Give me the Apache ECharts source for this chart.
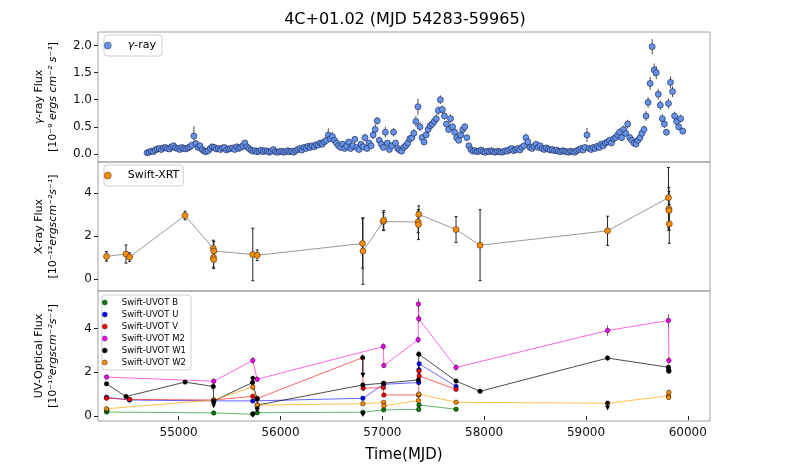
<!DOCTYPE html>
<html>
<head>
<meta charset="utf-8">
<title>4C+01.02 light curve</title>
<script src="https://cdn.jsdelivr.net/npm/echarts@6.0.0/dist/echarts.min.js"></script>
<style>
  html, body { margin: 0; padding: 0; background: #fff; }
  #chart { width: 789px; height: 473px; }
</style>
</head>
<body>
<div id="chart"></div>
<script>
// ---- data ----
// Fermi gamma-ray light curve, 20 day bins starting at MJD 54690
var gammaStart = 54690;
var gammaStep = 20;
var gammaFlux = [
  0.02, 0.03, 0.05, 0.04, 0.07, 0.09, 0.10, 0.08, 0.11, 0.12,
  0.10, 0.09, 0.13, 0.15, 0.11, 0.10, 0.08, 0.12, 0.10, 0.09,
  0.11, 0.13, 0.16, 0.33, 0.19, 0.12, 0.15, 0.08, 0.05, 0.04,
  0.06, 0.10, 0.13, 0.12, 0.09, 0.10, 0.08, 0.11, 0.12, 0.07,
  0.09, 0.10, 0.11, 0.08, 0.13, 0.10, 0.12, 0.15, 0.20, 0.13,
  0.10, 0.07, 0.05, 0.06, 0.04, 0.05, 0.07, 0.04, 0.06, 0.05,
  0.03, 0.05, 0.08, 0.04, 0.03, 0.04, 0.05, 0.03, 0.04, 0.06,
  0.04, 0.05, 0.03, 0.06, 0.08, 0.10, 0.07, 0.12, 0.10, 0.14,
  0.12, 0.15, 0.13, 0.17, 0.16, 0.20, 0.18, 0.22, 0.25, 0.35,
  0.28, 0.32, 0.25, 0.20, 0.15, 0.12, 0.18, 0.10, 0.14, 0.22,
  0.10, 0.15, 0.27, 0.12, 0.08, 0.18, 0.13, 0.30, 0.10, 0.20,
  0.15, 0.35, 0.45, 0.61, 0.25, 0.18, 0.12, 0.40, 0.20, 0.08,
  0.15, 0.40, 0.20, 0.10, 0.07, 0.05, 0.12, 0.15, 0.20, 0.28,
  0.30, 0.38, 0.60, 0.87, 0.50, 0.30, 0.22, 0.35, 0.45, 0.52,
  0.55, 0.60, 0.65, 0.80, 1.00, 0.82, 0.70, 0.55, 0.45, 0.65,
  0.50, 0.40, 0.30, 0.25, 0.35, 0.45, 0.50, 0.30, 0.15, 0.08,
  0.05, 0.06, 0.04, 0.05, 0.07, 0.04, 0.03, 0.05, 0.04, 0.06,
  0.04, 0.03, 0.05, 0.04, 0.03, 0.04, 0.06, 0.05, 0.08, 0.10,
  0.06, 0.08, 0.10, 0.07, 0.12, 0.15, 0.30, 0.22, 0.12, 0.10,
  0.14, 0.18, 0.12, 0.15, 0.10, 0.08, 0.11, 0.09, 0.07, 0.08,
  0.06, 0.07, 0.05, 0.04, 0.06, 0.05, 0.04, 0.03, 0.05, 0.04,
  0.03, 0.06, 0.08, 0.10, 0.07, 0.12, 0.35, 0.10, 0.08, 0.12,
  0.10, 0.14, 0.12, 0.18, 0.15, 0.20, 0.22, 0.25, 0.20, 0.28,
  0.30, 0.35, 0.40, 0.30, 0.45, 0.38, 0.55, 0.30, 0.25, 0.20,
  0.18, 0.25, 0.30, 0.38, 0.45, 0.70, 0.95, 1.30, 1.98, 1.55,
  1.50, 1.10, 0.90, 0.65, 0.55, 0.40, 0.93, 1.32, 1.15, 0.70,
  0.60, 0.50, 0.65, 0.42
];
var gammaErr = [
  0.02, 0.02, 0.03, 0.03, 0.03, 0.03, 0.03, 0.03, 0.03, 0.03,
  0.03, 0.03, 0.03, 0.04, 0.03, 0.03, 0.03, 0.03, 0.03, 0.03,
  0.03, 0.03, 0.05, 0.18, 0.06, 0.03, 0.04, 0.03, 0.02, 0.02,
  0.02, 0.03, 0.03, 0.03, 0.03, 0.03, 0.03, 0.03, 0.03, 0.03,
  0.03, 0.03, 0.03, 0.03, 0.03, 0.03, 0.03, 0.04, 0.05, 0.03,
  0.03, 0.03, 0.02, 0.02, 0.02, 0.02, 0.02, 0.02, 0.02, 0.02,
  0.02, 0.02, 0.03, 0.02, 0.02, 0.02, 0.02, 0.02, 0.02, 0.02,
  0.02, 0.02, 0.02, 0.02, 0.03, 0.03, 0.03, 0.03, 0.03, 0.04,
  0.03, 0.04, 0.03, 0.04, 0.04, 0.05, 0.04, 0.05, 0.05, 0.12,
  0.06, 0.08, 0.05, 0.05, 0.04, 0.03, 0.05, 0.03, 0.04, 0.05,
  0.03, 0.04, 0.06, 0.03, 0.03, 0.04, 0.04, 0.07, 0.03, 0.05,
  0.04, 0.08, 0.10, 0.07, 0.05, 0.04, 0.03, 0.10, 0.05, 0.03,
  0.04, 0.08, 0.05, 0.03, 0.03, 0.02, 0.04, 0.04, 0.05, 0.06,
  0.06, 0.08, 0.10, 0.15, 0.08, 0.06, 0.05, 0.06, 0.07, 0.08,
  0.08, 0.08, 0.08, 0.08, 0.08, 0.07, 0.07, 0.06, 0.06, 0.08,
  0.06, 0.06, 0.05, 0.05, 0.06, 0.07, 0.06, 0.05, 0.04, 0.03,
  0.02, 0.02, 0.02, 0.02, 0.02, 0.02, 0.02, 0.02, 0.02, 0.02,
  0.02, 0.02, 0.02, 0.02, 0.02, 0.02, 0.03, 0.02, 0.03, 0.03,
  0.02, 0.03, 0.03, 0.03, 0.04, 0.04, 0.07, 0.05, 0.04, 0.03,
  0.04, 0.04, 0.04, 0.04, 0.03, 0.03, 0.03, 0.03, 0.03, 0.03,
  0.02, 0.02, 0.02, 0.02, 0.02, 0.02, 0.02, 0.02, 0.02, 0.02,
  0.02, 0.02, 0.03, 0.03, 0.03, 0.04, 0.13, 0.03, 0.03, 0.04,
  0.04, 0.04, 0.04, 0.05, 0.04, 0.05, 0.05, 0.05, 0.05, 0.06,
  0.06, 0.06, 0.07, 0.06, 0.07, 0.06, 0.08, 0.06, 0.05, 0.05,
  0.05, 0.05, 0.06, 0.06, 0.07, 0.09, 0.10, 0.12, 0.14, 0.12,
  0.12, 0.10, 0.09, 0.08, 0.07, 0.06, 0.09, 0.11, 0.10, 0.08,
  0.07, 0.06, 0.07, 0.06
];

// Swift-XRT: [MJD, flux, error]
var xrtPoints = [
  [54292, 1.05, 0.22], [54483, 1.16, 0.42], [54518, 1.02, 0.20],
  [55063, 2.95, 0.20],
  [55340, 1.42, 0.38], [55342, 1.00, 0.45], [55344, 0.90, 0.42], [55346, 1.30, 0.45],
  [55728, 1.14, 1.22], [55771, 1.10, 0.25],
  [56806, 1.65, 1.15], [56810, 1.30, 1.55],
  [57010, 2.67, 0.42], [57014, 2.73, 0.45],
  [57352, 2.65, 0.50], [57355, 2.53, 0.70], [57358, 3.00, 0.40],
  [57724, 2.30, 0.60], [57960, 1.57, 1.65], [59212, 2.24, 0.68],
  [59810, 3.78, 1.40], [59814, 3.26, 1.00], [59816, 3.18, 0.90], [59818, 2.56, 0.90]
];

// Swift-UVOT bands: [MJD, flux, error]
var uvotB = [
  [54292, 0.18, 0.05], [54296, 0.25, 0.05], [55344, 0.14, 0.04], [55728, 0.08, 0.04],
  [55771, 0.15, 0.04], [56809, 0.17, 0.05], [57013, 0.28, 0.05], [57357, 0.30, 0.05],
  [57360, 0.50, 0.06], [57724, 0.31, 0.05]
];
var uvotU = [
  [54292, 0.86, 0.06], [54518, 0.73, 0.05], [55344, 0.69, 0.06], [55728, 0.69, 0.06],
  [56809, 0.81, 0.07], [57013, 1.45, 0.10], [57357, 1.53, 0.10], [57360, 2.11, 0.12],
  [57362, 2.39, 0.12], [57724, 1.35, 0.10]
];
var uvotV = [
  [54292, 0.81, 0.06], [54518, 0.76, 0.05], [55344, 0.73, 0.06], [55728, 0.90, 0.07],
  [55771, 0.80, 0.06], [56806, 2.67, 0.15], [56812, 1.27, 0.10], [57010, 1.30, 0.10],
  [57015, 0.96, 0.08], [57357, 0.96, 0.08], [57360, 2.06, 0.12], [57362, 1.83, 0.12],
  [57724, 1.22, 0.10]
];
var uvotM2 = [
  [54292, 1.78, 0.10], [55344, 1.59, 0.12], [55728, 2.54, 0.15], [55771, 1.68, 0.12],
  [57010, 3.18, 0.15], [57015, 2.31, 0.12], [57352, 3.49, 0.15], [57355, 5.12, 0.25],
  [57358, 4.45, 0.20], [57724, 2.22, 0.15], [59212, 3.91, 0.25], [59810, 4.37, 0.30],
  [59814, 2.54, 0.15]
];
var uvotW1 = [
  [54292, 1.47, 0.08], [54483, 0.89, 0.06], [55063, 1.55, 0.08], [55340, 1.35, 0.25],
  [55344, 0.69, 0.10], [55725, 1.53, 0.20], [55771, 0.78, 0.10], [55774, 0.50, 0.08],
  [56809, 1.42, 0.10], [57013, 1.50, 0.10], [57355, 1.65, 0.10], [57358, 2.83, 0.15],
  [57724, 1.60, 0.10], [57960, 1.13, 0.08], [59212, 2.65, 0.12], [59810, 2.23, 0.12],
  [59812, 2.10, 0.12], [59814, 2.05, 0.12]
];
var uvotW2 = [
  [54292, 0.33, 0.05], [55344, 0.73, 0.10], [55728, 1.33, 0.15], [55771, 0.50, 0.08],
  [56809, 0.56, 0.06], [57013, 0.62, 0.06], [57016, 0.47, 0.06], [57355, 0.70, 0.08],
  [57358, 1.00, 0.08], [57724, 0.63, 0.06], [59212, 0.58, 0.08], [59810, 0.92, 0.08],
  [59812, 0.85, 0.08], [59814, 1.08, 0.10]
];
// UVOT upper limits: [MJD, marker value, arrow tip]
var uvotLimits = [
  [55344, 0.70, 0.40], [55728, 1.75, 1.60], [55728, 0.12, -0.02], [55771, 0.35, 0.20],
  [56809, 2.67, 1.80], [56809, 0.14, 0.00], [59212, 0.60, 0.30]
];

var xTicks = [55000, 56000, 57000, 58000, 59000, 60000];
var gammaTicks = [0, 0.5, 1, 1.5, 2];
var xrtTicks = [0, 2, 4];
var uvotTicks = [0, 2, 4];

var bands = [
  { name: 'Swift-UVOT B', data: uvotB, color: '#008000', line: 'rgba(0,128,0,0.6)' },
  { name: 'Swift-UVOT U', data: uvotU, color: '#0000ff', line: 'rgba(0,0,255,0.6)' },
  { name: 'Swift-UVOT V', data: uvotV, color: '#ff0000', line: 'rgba(255,0,0,0.6)' },
  { name: 'Swift-UVOT M2', data: uvotM2, color: '#ff00ff', line: 'rgba(255,0,200,0.6)' },
  { name: 'Swift-UVOT W1', data: uvotW1, color: '#000000', line: 'rgba(0,0,0,0.7)' },
  { name: 'Swift-UVOT W2', data: uvotW2, color: '#ff8c00', line: 'rgba(255,165,0,0.7)' }
];

// ---- helpers ----
var FONT = 'DejaVu Sans';

function errorBarRender(color, cap, width) {
  return function (params, api) {
    var hi = api.coord([api.value(0), api.value(2)]);
    var lo = api.coord([api.value(0), api.value(1)]);
    var st = { stroke: color, lineWidth: width };
    var kids = [{ type: 'line', shape: { x1: hi[0], y1: hi[1], x2: lo[0], y2: lo[1] }, style: st }];
    if (cap) {
      kids.push({ type: 'line', shape: { x1: hi[0] - cap, y1: hi[1], x2: hi[0] + cap, y2: hi[1] }, style: st });
      kids.push({ type: 'line', shape: { x1: lo[0] - cap, y1: lo[1], x2: lo[0] + cap, y2: lo[1] }, style: st });
    }
    return { type: 'group', children: kids };
  };
}

function limitRender(params, api) {
  var top = api.coord([api.value(0), api.value(1)]);
  var tip = api.coord([api.value(0), api.value(2)]);
  var st = { stroke: '#000', lineWidth: 1 };
  return {
    type: 'group',
    children: [
      { type: 'line', shape: { x1: top[0], y1: top[1], x2: tip[0], y2: tip[1] }, style: st },
      { type: 'polygon', shape: { points: [[tip[0] - 2.5, tip[1] - 4], [tip[0] + 2.5, tip[1] - 4], [tip[0], tip[1] + 1]] }, style: { fill: '#000' } },
      { type: 'circle', shape: { cx: top[0], cy: top[1], r: 2 }, style: { fill: '#000' } }
    ]
  };
}

function errorData(points) {
  return points.map(function (p) { return [p[0], p[1] - p[2], p[1] + p[2]]; });
}

function yName(first, second) {
  return first + '\n' + second;
}

var nameRich = {
  t: { fontFamily: FONT, fontSize: 11, color: '#000' },
  i: { fontFamily: FONT, fontSize: 11, color: '#000', fontStyle: 'italic' }
};

function makeXAxis(idx, showLabels) {
  return {
    type: 'value', gridIndex: idx, min: 54208, max: 60218,
    axisLine: { show: false },
    splitLine: { show: false },
    axisTick: { show: showLabels, length: 4, lineStyle: { color: '#222' }, customValues: xTicks },
    axisLabel: {
      show: showLabels, customValues: xTicks, fontFamily: FONT, fontSize: 12, color: '#111', margin: 6,
      formatter: function (v) { return String(v); }
    },
    name: showLabels ? 'Time(MJD)' : '',
    nameLocation: 'middle', nameGap: 27,
    nameTextStyle: { fontFamily: FONT, fontSize: 15, color: '#000' }
  };
}

function makeYAxis(idx, min, max, ticks, digits, name) {
  return {
    type: 'value', gridIndex: idx, min: min, max: max,
    axisLine: { show: false },
    splitLine: { show: false },
    axisTick: { show: true, length: 4, lineStyle: { color: '#222' }, customValues: ticks },
    axisLabel: {
      customValues: ticks, fontFamily: FONT, fontSize: 12, color: '#111', margin: 6,
      formatter: function (v) { return v.toFixed(digits); }
    },
    name: name, nameLocation: 'middle', nameRotate: 90, nameGap: 38,
    nameTextStyle: { lineHeight: 14, rich: nameRich }
  };
}

// ---- series ----
var gammaPoints = gammaFlux.map(function (f, i) { return [gammaStart + i * gammaStep, f, gammaErr[i]]; });

var series = [
  {
    type: 'custom', xAxisIndex: 0, yAxisIndex: 0, silent: true, clip: true, z: 2,
    renderItem: errorBarRender('#222', 0, 0.8),
    encode: { x: 0, y: [1, 2] },
    data: errorData(gammaPoints)
  },
  {
    name: 'γ-ray', type: 'scatter', xAxisIndex: 0, yAxisIndex: 0, z: 3,
    symbolSize: 6,
    itemStyle: { color: '#6495ed', borderColor: '#1a1a40', borderWidth: 0.6, opacity: 1 },
    data: gammaPoints.map(function (p) { return [p[0], p[1]]; })
  },
  {
    type: 'line', xAxisIndex: 1, yAxisIndex: 1, silent: true, z: 1,
    showSymbol: false,
    lineStyle: { color: '#999', width: 1 },
    data: xrtPoints.map(function (p) { return [p[0], p[1]]; })
  },
  {
    type: 'custom', xAxisIndex: 1, yAxisIndex: 1, silent: true, clip: true, z: 2,
    renderItem: errorBarRender('#222', 1.5, 1),
    encode: { x: 0, y: [1, 2] },
    data: errorData(xrtPoints)
  },
  {
    name: 'Swift-XRT', type: 'scatter', xAxisIndex: 1, yAxisIndex: 1, z: 3,
    symbolSize: 6,
    itemStyle: { color: '#ff8c00', borderColor: '#333', borderWidth: 0.6, opacity: 1 },
    data: xrtPoints.map(function (p) { return [p[0], p[1]]; })
  }
];

bands.forEach(function (b) {
  series.push({
    type: 'line', xAxisIndex: 2, yAxisIndex: 2, silent: true, z: 1,
    showSymbol: false,
    lineStyle: { color: b.line, width: 1 },
    data: b.data.map(function (p) { return [p[0], p[1]]; })
  });
  series.push({
    type: 'custom', xAxisIndex: 2, yAxisIndex: 2, silent: true, clip: true, z: 2,
    renderItem: errorBarRender('rgba(80,80,80,0.8)', 0, 1),
    encode: { x: 0, y: [1, 2] },
    data: errorData(b.data)
  });
  series.push({
    name: b.name, type: 'scatter', xAxisIndex: 2, yAxisIndex: 2, z: 3,
    symbolSize: 4.5,
    itemStyle: { color: b.color, borderColor: '#000', borderWidth: 0.5, opacity: 1 },
    data: b.data.map(function (p) { return [p[0], p[1]]; })
  });
});

series.push({
  type: 'custom', xAxisIndex: 2, yAxisIndex: 2, silent: true, clip: true, z: 4,
  renderItem: limitRender,
  encode: { x: 0, y: [1, 2] },
  data: uvotLimits
});

var legendBase = {
  orient: 'vertical', icon: 'circle', itemWidth: 30, itemHeight: 7,
  backgroundColor: '#fff', borderColor: '#d0d0d0', borderWidth: 1, borderRadius: 3,
  itemStyle: { borderWidth: 0.5, borderColor: '#333' },
  textStyle: { fontFamily: FONT, fontSize: 11, color: '#000' }
};

var option = {
  backgroundColor: '#fff',
  animation: false,
  title: {
    text: '4C+01.02 (MJD 54283-59965)',
    left: 400, top: 7, textAlign: 'center',
    textStyle: { fontFamily: FONT, fontSize: 16, fontWeight: 'normal', color: '#000' }
  },
  legend: [
    Object.assign({}, legendBase, {
      data: ['γ-ray'], left: 104, top: 35, padding: [5, 6, 5, 0],
      formatter: function () { return '{i|γ}-ray'; },
      textStyle: { fontFamily: FONT, fontSize: 11, color: '#000', rich: { i: { fontStyle: 'italic', fontFamily: FONT, fontSize: 11 } } }
    }),
    Object.assign({}, legendBase, {
      data: ['Swift-XRT'], left: 104, top: 165, padding: [5, 4, 5, 0]
    }),
    Object.assign({}, legendBase, {
      data: bands.map(function (b) { return b.name; }),
      left: 102, top: 295, padding: [3, 5, 3, 0], itemGap: 3,
      itemWidth: 24, itemHeight: 5,
      textStyle: { fontFamily: FONT, fontSize: 8.5, color: '#000' }
    })
  ],
  grid: [
    { left: 98, right: 79, top: 32, height: 130, show: true, borderColor: '#a0a0a0', borderWidth: 1, backgroundColor: 'transparent' },
    { left: 98, right: 79, top: 162, height: 129, show: true, borderColor: '#a0a0a0', borderWidth: 1, backgroundColor: 'transparent' },
    { left: 98, right: 79, top: 291, height: 130, show: true, borderColor: '#a0a0a0', borderWidth: 1, backgroundColor: 'transparent' }
  ],
  xAxis: [makeXAxis(0, false), makeXAxis(1, false), makeXAxis(2, true)],
  yAxis: [
    makeYAxis(0, -0.15, 2.25, gammaTicks, 1,
      yName('{i|γ}{t|-ray Flux}', '{t|[10⁻⁹ }{i|ergs cm⁻² s⁻¹}{t|]}')),
    makeYAxis(1, -0.56, 5.44, xrtTicks, 0,
      yName('{t|X-ray Flux}', '{t|[10⁻¹²}{i|ergscm⁻²s⁻¹}{t|]}')),
    makeYAxis(2, -0.23, 5.72, uvotTicks, 0,
      yName('{t|UV-Optical Flux}', '{t|[10⁻¹⁰}{i|ergscm⁻²s⁻¹}{t|]}'))
  ],
  series: series
};

var chart = echarts.init(document.getElementById('chart'));
chart.setOption(option);
</script>
</body>
</html>
